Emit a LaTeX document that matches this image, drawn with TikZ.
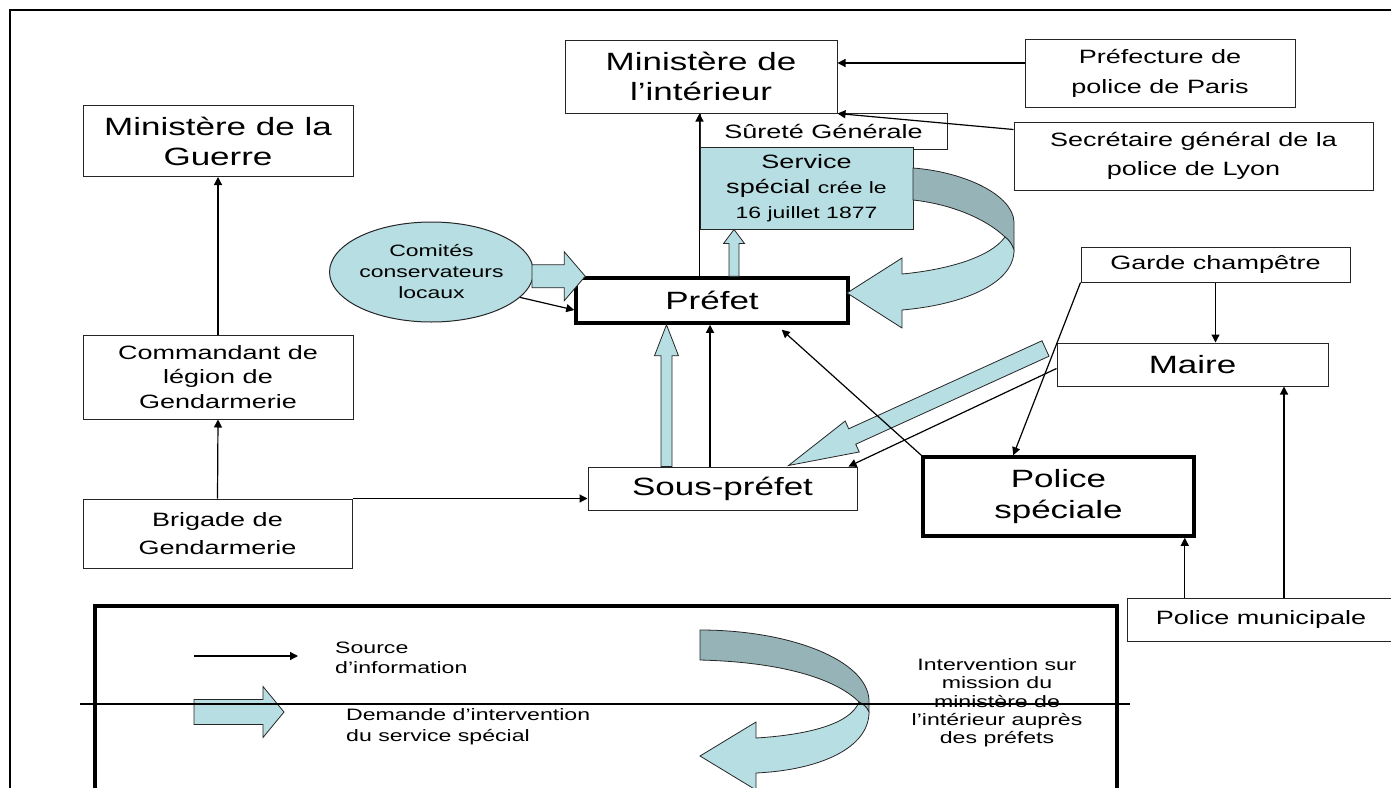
\documentclass[tikz,border=0pt]{standalone}
\usepackage{fontspec}
\setmainfont{Liberation Sans}[FakeStretch=1.4]
\usepackage{tikz}
\usetikzlibrary{arrows.meta,positioning,shapes.geometric,calc}

\definecolor{sky}{RGB}{183,222,226}
\definecolor{slate}{RGB}{150,180,184}

\newcommand{\fbig}{\fontsize{25}{30}\selectfont}
\newcommand{\fmed}{\fontsize{19.3}{29}\selectfont}
\newcommand{\fsml}{\fontsize{16.4}{21}\selectfont}
\newcommand{\fleg}{\fontsize{16.5}{20}\selectfont}

% fat arrow: [style]{from}{to}{shaft}{head}{head length}
\newcommand{\blockarrow}[6][]{%
  \path let \p1=(#2), \p2=(#3) in
    \pgfextra{\pgfmathsetmacro\tmpang{atan2(\y2-\y1,\x2-\x1)}%
              \pgfmathsetmacro\tmplen{veclen(\x2-\x1,\y2-\y1)}%
              \xdef\faang{\tmpang}\xdef\falen{\tmplen}};
  \begin{scope}[shift={(#2)},rotate=\faang]
    \draw[fatarr,#1] ({0},{-#4/2}) -- ({\falen-#6},{-#4/2}) -- ({\falen-#6},{-#5/2})
      -- ({\falen},{0}) -- ({\falen-#6},{#5/2}) -- ({\falen-#6},{#4/2}) -- ({0},{#4/2}) -- cycle;
  \end{scope}}

\begin{document}
\begin{tikzpicture}[x=1pt,y=-1pt,
  box/.style={draw=black!85,line width=1pt,fill=white,inner sep=0pt,align=center,font=\fmed},
  heavybox/.style={box,draw=black,line width=3.5pt,font=\fbig},
  blob/.style={ellipse,draw=black!85,line width=1pt,fill=sky,inner sep=0pt,align=center,font=\fsml},
  srcline/.style={-{Triangle[length=8pt,width=8pt]},line width=1.2pt},
  fatarr/.style={draw=black!85,line width=0.8pt,fill=sky,line join=miter}]

\useasboundingbox (0,0) rectangle (1391,787);
\draw[line width=2.5pt] (10,795) -- (10,10) -- (1395,10);

% boxes
  \node[box,font=\fbig,minimum width=270pt,minimum height=71pt]  (MG)  at (218,141)     {Ministère de la\\Guerre};
  \node[box,minimum width=270pt,minimum height=84pt,font={\fontsize{19.3}{24.5}\selectfont}] (CLG) at (218,377) {Commandant de\\légion de\\Gendarmerie};
  \node[box,minimum width=269pt,minimum height=69pt,font={\fontsize{19.3}{28}\selectfont}]   (BG)  at (217.5,533.5) {Brigade de\\Gendarmerie};
  \node[box,font=\fbig,minimum width=272pt,minimum height=73pt]  (MI)  at (701,76.5)    {Ministère de\\l’intérieur};
  \node[box,minimum width=270pt,minimum height=68pt,font={\fontsize{19.3}{30}\selectfont}]   (PPP) at (1160,73)     {Préfecture de\\police de Paris};
  \node[box,minimum width=359pt,minimum height=68pt,font={\fontsize{19.3}{28.5}\selectfont}] (SGL) at (1193.5,156)  {Secrétaire général de la\\police de Lyon};
  \node[box,minimum width=247pt,minimum height=36pt]             (SG)  at (823.5,131)   {Sûreté Générale};
  \node[box,fill=sky,minimum width=213pt,minimum height=82pt,font={\fontsize{19.3}{25}\selectfont}] (SS) at (806.5,188) {Service\\spécial {\fsml crée le}\\{\fsml 16 juillet 1877}};
  \node[blob,minimum width=181pt,minimum height=100pt]           (CCL) at (431.5,272)   {Comités\\conservateurs\\locaux};
  \node[heavybox,minimum width=272pt,minimum height=45pt]        (PR)  at (712,300.5)   {Préfet};
  \node[box,minimum width=269pt,minimum height=35pt]             (GC)  at (1215.5,264.5) {Garde champêtre};
  \node[box,font=\fbig,minimum width=271pt,minimum height=43pt]  (MA)  at (1192.5,364.5) {Maire};
  \node[heavybox,minimum width=271pt,minimum height=79pt,font={\fontsize{25}{31}\selectfont}] (PS) at (1058.5,496.5) {Police\\spéciale};
  \node[box,font=\fbig,minimum width=269pt,minimum height=43pt]  (SP)  at (722.5,488.5) {Sous-préfet};
  \node[box,minimum width=268pt,minimum height=43pt]             (PM)  at (1261,619.5)  {Police municipale};

% demandes d'intervention
  \coordinate (ccltip)  at ($(PR.north west)+(11,0)$);
  \coordinate (ccltail) at ($(CCL.east |- ccltip)+(-2,0)$);
  \blockarrow{ccltail}{ccltip}{23}{49}{21}
  \coordinate (prup) at ($(PR.north)+(22,0)$);
  \blockarrow{prup}{prup |- SS.south}{10}{21}{14}
  \coordinate (spup) at ($(SP.north)+(-56,0)$);
  \blockarrow{spup}{spup |- PR.south}{11}{24}{31}
  \coordinate (matail) at ($(MA.north west)+(-11,6)$);
  \coordinate (matip)  at ($(SP.north east)+(-69,-1)$);
  \blockarrow{matail}{matip}{17}{34}{70}

% intervention du ministere
  \draw[fill=slate,draw=black!85,line width=0.8pt] (913,168) .. controls (965,172) and (1013,195) .. (1014,222)
    -- (1014,250) .. controls (1012,244) and (1009,240) .. (1005,237)
    .. controls (985,218) and (950,204) .. (913,200) -- cycle;
  \draw[fatarr] (1005,237) .. controls (1009,240) and (1012,244) .. (1014,250)
    .. controls (1014,285) and (960,305) .. (902,310) -- (902,328) -- (847,293) -- (902,258) -- (902,274)
    .. controls (945,270) and (990,258) .. (1005,237) -- cycle;

% sources d'information
  \draw[srcline] (CLG.north) -- (MG.south);
  \draw[srcline] (BG.north) -- (CLG.south);
  \draw[srcline] (BG.north east) -- (BG.north east -| SP.west);
  \draw[srcline] (PR.north -| SS.west) -- (MI.south -| SS.west);
  \coordinate (ppin) at ($(PPP.west)+(0,-10)$);
  \draw[srcline] (ppin) -- (ppin -| MI.east);
  \draw[srcline] ($(SGL.north west)+(0,8)$) -- (MI.south east);
  \draw[srcline] (CCL.-16) -- ($(PR.west)+(0,9.5)$);
  \coordinate (spin) at ($(SP.north)+(-12.5,0)$);
  \draw[srcline] (spin) -- (spin |- PR.south);
  \draw[srcline] (PS.north west) -- ($(PR.south east)+(-68,5)$);
  \draw[srcline] ($(MA.west)+(0,4)$) -- ($(SP.north east)+(-9,0)$);
  \draw[srcline] (GC.south west) -- ($(PS.north west)+(92,0)$);
  \draw[srcline] (GC.south) -- (GC.south |- MA.north);
  \coordinate (pmps) at ($(PS.south east)+(-11,0)$);
  \draw[srcline] (pmps |- PM.north) -- (pmps);
  \coordinate (pmma) at ($(MA.south)+(91.5,0)$);
  \draw[srcline] (pmma |- PM.north) -- (pmma);

% legende
  \draw[line width=4pt] (95,795) -- (95,606) -- (1117,606) -- (1117,795);
  \coordinate (lsa) at (194,656);
  \coordinate (lsb) at (298,656);
  \draw[srcline] (lsa) -- (lsb);
  \coordinate (lga) at (194,712);
  \coordinate (lgb) at (284,712);
  \blockarrow{lga}{lgb}{25}{51}{21}
  \node[anchor=west,align=left,inner sep=0pt,font=\fleg] (srclabel) at (335,658) {Source\\d’information};
  \node[anchor=west,align=left,inner sep=0pt,font={\fontsize{16.5}{21}\selectfont}] (dmdlabel) at (346,726.5) {Demande d’intervention\\du service spécial};
  \node[align=center,inner sep=0pt,font={\fontsize{16.5}{18.3}\selectfont}] (intlabel) at (997,703) {Intervention sur\\mission du\\ministère de\\l’intérieur auprès\\des préfets};
  \draw[fill=slate,draw=black!85,line width=0.8pt] (700,630) .. controls (790,630) and (867,660) .. (869,700)
    -- (869,712) .. controls (867,707) and (863,704) .. (859,702)
    .. controls (835,678) and (780,662) .. (700,660) -- cycle;
  \draw[fatarr] (859,702) .. controls (863,704) and (867,707) .. (869,712)
    .. controls (869,748) and (820,770) .. (756,773) -- (756,790) -- (700,756) -- (756,722) -- (756,738)
    .. controls (805,735) and (850,725) .. (859,702) -- cycle;
  \draw[line width=2pt] (80,704) -- (1130,704);
\end{tikzpicture}
\end{document}
